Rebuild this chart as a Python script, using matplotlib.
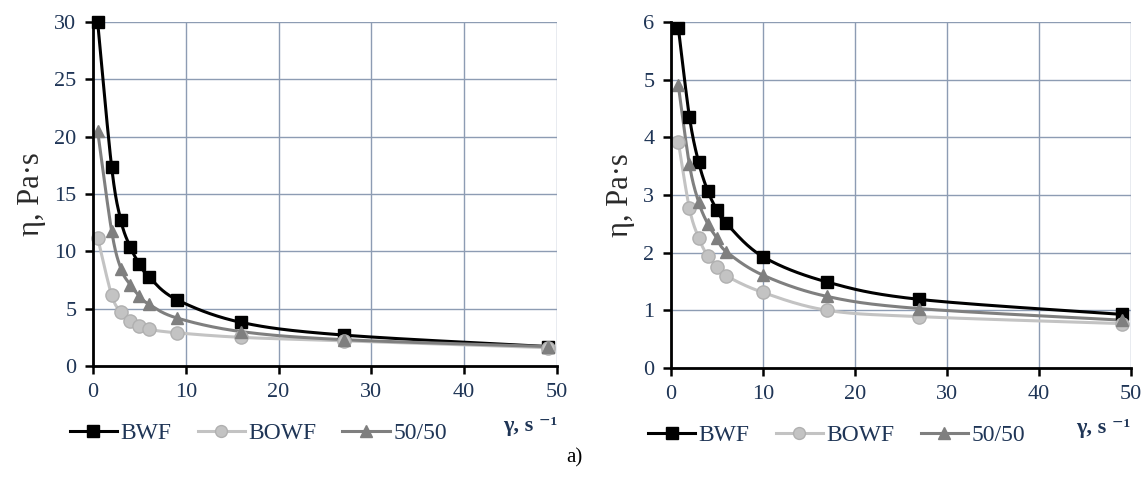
import numpy as np
import matplotlib
matplotlib.use("Agg")
import matplotlib.pyplot as plt
from matplotlib.lines import Line2D

plt.rcParams['font.family'] = ['Liberation Serif', 'DejaVu Serif']

# ---- data ----
series_names = ["BWF", "BOWF", "50/50"]

left_x = [0.5, 2, 3, 4, 5, 6, 9, 16, 27, 49]
left_bwf = [30.0, 17.4, 12.7, 10.4, 8.9, 7.8, 5.8, 3.8, 2.7, 1.7]
left_bowf = [11.2, 6.2, 4.7, 3.9, 3.5, 3.2, 2.9, 2.5, 2.2, 1.6]
left_5050 = [20.5, 11.8, 8.5, 7.1, 6.1, 5.4, 4.2, 3.0, 2.3, 1.7]

right_x = [0.8, 2, 3, 4, 5, 6, 10, 17, 27, 49]
right_bwf = [5.9, 4.36, 3.57, 3.07, 2.74, 2.51, 1.93, 1.49, 1.19, 0.93]
right_bowf = [3.92, 2.77, 2.26, 1.94, 1.76, 1.60, 1.31, 1.00, 0.89, 0.77]
right_5050 = [4.9, 3.53, 2.88, 2.5, 2.25, 2.02, 1.61, 1.24, 1.03, 0.83]

left_yticks = [0, 5, 10, 15, 20, 25, 30]
right_yticks = [0, 1, 2, 3, 4, 5, 6]
xticks = [0, 10, 20, 30, 40, 50]

# ---- styles ----
TXT = '#1f3556'
YLAB = '#2a2a2a'
GRID = '#8d9cb3'
styles = [
    dict(color='#000000', marker='s', ms=9, mfc='#000000', mec='#000000', lw=2.2),
    dict(color='#c3c3c3', marker='o', ms=9.5, mfc='#c3c3c3', mec='#b0b0b0', lw=2.2),
    dict(color='#7f7f7f', marker='^', ms=9, mfc='#7f7f7f', mec='#7f7f7f', lw=2.2),
]


def smooth(x, y, n=30):
    """Excel-like smoothed line (cardinal Bezier) through the points."""
    x = np.asarray(x, float); y = np.asarray(y, float)
    P = np.column_stack([x, y])
    out = [P[0]]
    for i in range(len(P) - 1):
        p0 = P[i - 1] if i > 0 else P[i]
        p1 = P[i]
        p2 = P[i + 1]
        p3 = P[i + 2] if i + 2 < len(P) else P[i + 1]
        c1 = p1 + (p2 - p0) / 6.0
        c2 = p2 - (p3 - p1) / 6.0
        t = np.linspace(0, 1, n)[1:, None]
        seg = ((1 - t) ** 3) * p1 + 3 * ((1 - t) ** 2) * t * c1 + 3 * (1 - t) * t ** 2 * c2 + t ** 3 * p2
        out.extend(seg)
    out = np.array(out)
    return out[:, 0], out[:, 1]


def draw(ax, x, ys, yticks, ymax):
    for y, st in zip(ys, styles):
        sx, sy = smooth(x, y)
        ax.plot(sx, sy, color=st['color'], lw=st['lw'], zorder=3, clip_on=False)
        ax.plot(x, y, linestyle='none', marker=st['marker'], ms=st['ms'],
                mfc=st['mfc'], mec=st['mec'], zorder=4, clip_on=False)
    ax.set_xlim(0, 50)
    ax.set_ylim(0, ymax)
    ax.set_xticks(xticks)
    ax.set_yticks(yticks)
    ax.grid(True, color=GRID, lw=1.0)
    ax.set_axisbelow(True)
    for s in ['top', 'right']:
        ax.spines[s].set_visible(False)
    for s in ['left', 'bottom']:
        ax.spines[s].set_color('black')
        ax.spines[s].set_linewidth(2.0)
        ax.spines[s].set_zorder(5)
    ax.tick_params(axis='both', direction='out', length=6, width=1.8, color='black',
                   labelsize=16, labelcolor=TXT, pad=6)
    ax.set_ylabel('η, Pa·s', fontsize=22, color=YLAB, labelpad=6)
    ax.text(1.0, -0.145, 'γ, s ⁻¹', transform=ax.transAxes, ha='right', va='top',
            fontsize=16, fontweight='bold', color=TXT)
    handles = [Line2D([], [], color=st['color'], lw=st['lw'], marker=st['marker'],
                      ms=st['ms'] * 0.9, mfc=st['mfc'], mec=st['mec']) for st in styles]
    ax.legend(handles, series_names, loc='center left', bbox_to_anchor=(-0.05, -0.195),
              ncol=3, frameon=False, fontsize=17, labelcolor=TXT, borderpad=0,
              handlelength=2.0, handletextpad=0.15, columnspacing=1.1, borderaxespad=0)


fig = plt.figure(figsize=(11.47, 4.90), dpi=100)
ax1 = fig.add_axes([0.0811, 0.253, 0.4045, 0.702])
ax2 = fig.add_axes([0.585, 0.249, 0.401, 0.706])

draw(ax1, left_x, [left_bwf, left_bowf, left_5050], left_yticks, 30)
draw(ax2, right_x, [right_bwf, right_bowf, right_5050], right_yticks, 6)

fig.text(0.5005, 1 - 458 / 490, 'a)', ha='center', va='center', fontsize=15, color='black')

fig.savefig('out.png', dpi=100)
